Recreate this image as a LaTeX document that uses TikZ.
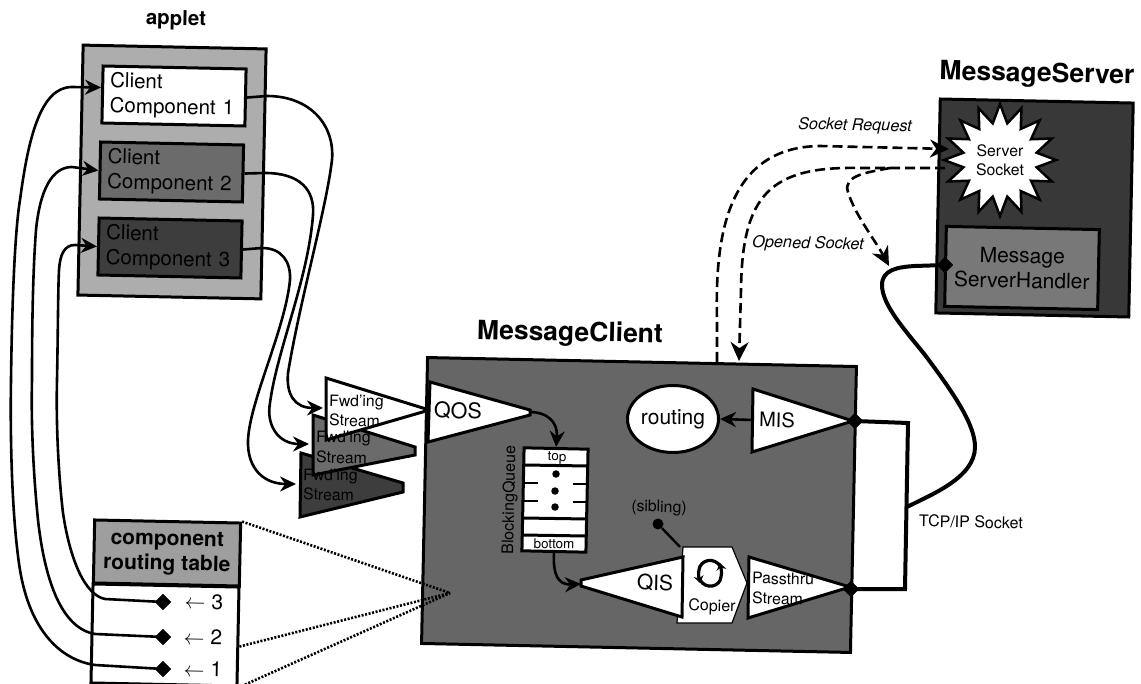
\documentclass[tikz,border=0pt]{standalone}
\usepackage{fontspec}
\setmainfont{TeX Gyre Heros}
\usetikzlibrary{arrows.meta,shapes.geometric}
\definecolor{gApplet}{gray}{0.68}
\definecolor{gHead}{gray}{0.62}
\definecolor{gMid}{gray}{0.42}
\definecolor{gDark}{gray}{0.24}
\definecolor{gClient}{gray}{0.40}
\definecolor{gServer}{gray}{0.22}
\definecolor{gHandler}{gray}{0.47}
\tikzset{
  tilt/.style={rotate=-1.2},
  panel/.style={draw,line width=3pt,inner sep=0pt,tilt},
  complabel/.style={panel,minimum width=143pt,minimum height=57pt,text width=128pt,inner xsep=7.5pt,align=left,font=\fontsize{20.5}{25}\selectfont},
  ttl/.style={tilt,inner sep=0pt,font=\fontsize{26.5}{30}\bfseries\selectfont},
  lg/.style={tilt,inner sep=0pt,align=center,font=\fontsize{21}{25}\selectfont},
  md/.style={tilt,inner sep=0pt,align=left,font=\fontsize{15.8}{18.7}\selectfont},
  mdi/.style={tilt,inner sep=0pt,font=\fontsize{16.3}{19}\itshape\selectfont},
  sm/.style={tilt,inner sep=0pt,font=\fontsize{13.4}{16}\selectfont},
  blk/.style={draw,fill=black,diamond,inner sep=0pt,minimum size=16pt},
  shapeline/.style={draw,line width=3pt,line join=miter},
  conn/.style={draw,line width=2.6pt,-{Stealth[length=16pt,width=15pt]}},
  plain/.style={draw,line width=2.4pt},
  dash1/.style={draw,line width=2.6pt,dash pattern=on 10pt off 5pt,-{Stealth[length=19pt,width=18pt]}},
  wire/.style={draw,line width=4pt,line join=miter},
  dotline/.style={draw,line width=2.6pt,dash pattern=on 2pt off 1.6pt},
  qdot/.style={circle,fill=black,inner sep=0pt,minimum size=7.5pt},
}
\begin{document}
\begin{tikzpicture}[x=1pt,y=-1pt]
\useasboundingbox (0,0) rectangle (1141,684);

% applet
\node[ttl,font=\fontsize{20.5}{25}\bfseries\selectfont] (appletT) at (176,20) {applet};
\node[panel,fill=gApplet,minimum width=183pt,minimum height=250pt] (applet) at (172,172) {};
\node[complabel,fill=white] (c1) at (174,96) {Client\\Component 1};
\node[complabel,fill=gMid] (c2) at (171.5,172) {Client\\Component 2};
\node[complabel,fill=gDark] (c3) at (170,248) {Client\\Component 3};

% message client
\node[ttl] (mcT) at (570,334) {MessageClient};
\node[panel,fill=gClient,minimum width=429pt,minimum height=286pt] (mc) at (639,505) {};

% message server
\node[ttl] (msT) at (1037,75) {MessageServer};
\node[panel,fill=gServer,minimum width=193pt,minimum height=214pt] (ms) at (1034.5,208) {};
\node[panel,fill=gHandler,minimum width=153pt,minimum height=80pt,align=center,font=\fontsize{21}{25}\selectfont] (handler) at (1022,268) {Message\\ServerHandler};
\node[draw,line width=2.5pt,fill=white,star,star points=16,star point ratio=1.5,minimum size=112pt,inner sep=0pt,align=center,font=\fontsize{15.8}{18.5}\selectfont] (ss) at (1000,160) {Server\\Socket};

% routing table
\node[panel,fill=white,minimum width=146pt,minimum height=99pt] (tbody) at (165,635) {};
\node[panel,fill=gHead,minimum width=146pt,minimum height=63pt,align=center,font=\fontsize{21}{25}\bfseries\selectfont] (thead) at (167,553) {component\\routing table};
\node[lg] (e3) at (204,602) {$\leftarrow$ 3};
\node[lg] (e2) at (203,637) {$\leftarrow$ 2};
\node[lg] (e1) at (203,669) {$\leftarrow$ 1};
\node[blk] (d3) at (163,602) {};
\node[blk] (d2) at (163,637) {};
\node[blk] (d1) at (163,669) {};

% dotted lines to message client
\coordinate (focus) at (450,593);
\path[dotline] (thead.north east) -- (focus);
\path[dotline] ([yshift=-10pt]tbody.east) -- (focus);
\path[dotline] (tbody.south east) -- (focus);

% forwarding streams
\path[shapeline,fill=gDark] (301,453) -- (403,483) -- (403,492) -- (300,517) -- cycle;
\path[shapeline,fill=gMid] (313,415) -- (415,447) -- (415,455) -- (313,475) -- cycle;
\path[shapeline,fill=white] (326,378) -- (426,409) -- (426,411) -- (326,440) -- cycle;
\node[md,anchor=west] (f3a) at (303,476) {Fwd’ing};
\node[md,anchor=west] (f3b) at (303,494) {Stream};
\node[md,anchor=west] (f2a) at (316,438) {Fwd’ing};
\node[md,anchor=west] (f2b) at (316,457) {Stream};
\node[md,anchor=west] (f1a) at (329,402) {Fwd’ing};
\node[md,anchor=west] (f1b) at (329,420) {Stream};
\coordinate (f1in) at (323,408);
\coordinate (f2in) at (309,444);
\coordinate (f3in) at (296,484);

% component to stream curves
\path[conn] (c1.east) -- (267,96) .. controls (310,96) and (335,125) .. (332,160)
  .. controls (326,210) and (300,300) .. (288,373) .. controls (286,395) and (295,408) .. (f1in);
\path[conn] (c2.east) -- (265,173) .. controls (300,173) and (315,190) .. (313,215)
  .. controls (308,280) and (277,350) .. (270,403) .. controls (266,425) and (278,444) .. (f2in);
\path[conn] (c3.east) -- (262,248) .. controls (282,248) and (291,262) .. (290,280)
  .. controls (285,330) and (250,400) .. (248,440) .. controls (247,470) and (265,484) .. (f3in);

% table to component curves
\path[conn] (d1.center) -- (95,665) .. controls (60,660) and (30,630) .. (20,570)
  .. controls (12,520) and (10,440) .. (11,380) .. controls (12,300) and (15,230) .. (20,200)
  .. controls (28,140) and (40,87) .. (72,87) -- ([yshift=7pt]c1.west);
\path[conn] (d2.center) -- (95,634) .. controls (70,630) and (47,600) .. (38,520)
  .. controls (33,470) and (31,420) .. (32,380) .. controls (32,320) and (33,270) .. (36,230)
  .. controls (40,190) and (52,167) .. (72,167) -- (c2.west);
\path[conn] (d3.center) -- (105,599) .. controls (85,595) and (70,560) .. (63,513)
  .. controls (58,470) and (56,420) .. (57,380) .. controls (58,330) and (58,290) .. (59,270)
  .. controls (60,255) and (64,245) .. (75,245) -- (c3.west);

% inside client: QOS and queue
\path[shapeline,fill=white] (430,382) -- (530,410) -- (530,415) -- (428,442) -- cycle;
\node[lg,font=\fontsize{21.5}{25}\selectfont] (qos) at (458,411) {QOS};
\coordinate (qosT) at (530,412);
\node[panel,fill=white,minimum width=64pt,minimum height=103pt] (queue) at (555,500) {};
\path[shapeline] (524,465) -- (588,466) (523,518) -- (587,519) (522,535) -- (586,536);
\path[plain] (524,483) -- (538,483) (573,484) -- (588,484) (523,501) -- (538,501) (573,502) -- (587,502);
\node[qdot] (q1) at (556,474) {};
\node[qdot] (q2) at (555,491) {};
\node[qdot] (q3) at (555,507) {};
\node[sm] (qtop) at (557,458) {top};
\node[sm] (qbot) at (554,544) {bottom};
\node[tilt,rotate=90,inner sep=0pt,font=\fontsize{16}{19}\selectfont] (ql) at (510,500) {BlockingQueue};
\path[conn] (qosT) .. controls (545,412) and (558,420) .. (queue.north);

% QIS, copier, passthru
\path[draw,line width=1.2pt,fill=white] (683,547) -- (732,547) -- (747,583) -- (732,623) -- (677,623) -- cycle;
\path[shapeline,fill=white] (683,557) -- (581,580) -- (581,586) -- (682,617) -- cycle;
\node[lg] (qis) at (655,583) {QIS};
\coordinate (qisIn) at (581,584);
\node[md,font=\fontsize{16}{19}\selectfont] (cop) at (712,607) {Copier};
\path[draw,line width=3.2pt,-{Stealth[length=7pt,width=10pt]}] (721,567) .. controls (714,556) and (700,560) .. (699,570) .. controls (698,575) and (699,578) .. (700,583);
\path[draw,line width=3.2pt,-{Stealth[length=7pt,width=10pt]}] (700,580) .. controls (706,590) and (720,587) .. (721,577) .. controls (722,572) and (721,568) .. (720,563);
\path[shapeline,fill=white] (749,557) -- (850,587) -- (748,618) -- cycle;
\node[md,anchor=west] (pa) at (752,578) {Passthru};
\node[md,anchor=west] (pb) at (752,598) {Stream};
\node[md] (sib) at (659,508) {(sibling)};
\node[circle,fill=black,inner sep=0pt,minimum size=11pt] (sibd) at (658,524) {};
\coordinate (copT) at (680,547);
\path[plain] (sibd) -- (copT);
\path[conn] (queue.south) .. controls (553,575) and (558,585) .. (qisIn);

% routing, MIS
\node[draw,line width=3pt,fill=white,ellipse,minimum width=91pt,minimum height=67pt,inner sep=0pt,font=\fontsize{21}{25}\selectfont] (routing) at (673,419) {routing};
\path[shapeline,fill=white] (753,389) -- (853,421) -- (752,452) -- cycle;
\node[lg,font=\fontsize{20}{25}\selectfont] (mis) at (777,420) {MIS};
\coordinate (misW) at (753,420);
\path[conn] (misW) -- (routing.east);

% wires
\node[blk] (dm) at (855,421) {};
\node[blk] (dp) at (851,589) {};
\node[blk] (dh) at (945,265) {};
\coordinate (w1) at (908,423);
\coordinate (w2) at (905,589);
\coordinate (w3) at (907,507);
\path[wire] (dm.center) -- (w1) -- (w2) -- (dp.center);
\path[wire] (w3) .. controls (930,495) and (975,478) .. (975,447)
  .. controls (975,425) and (955,395) .. (925,355) .. controls (905,330) and (882,305) .. (882,285)
  .. controls (882,270) and (897,267) .. (915,266) -- (dh.center);
\node[md,font=\fontsize{16}{19}\selectfont] (tcp) at (971,522) {TCP/IP Socket};

% dashed
\coordinate (reqS) at (717,362);
\coordinate (ssIn) at (949,149);
\coordinate (openS) at (945,168);
\coordinate (openE) at (739,361);
\coordinate (brS) at (890,168);
\coordinate (brE) at (889,266);
\path[dash1] (reqS) -- (717,320) .. controls (715,240) and (725,147) .. (820,146) -- (ssIn);
\path[dash1] (openS) -- (860,168) .. controls (770,166) and (742,195) .. (741,290) -- (openE);
\path[dash1] (brS) .. controls (870,172) and (842,175) .. (848,192) .. controls (855,215) and (875,240) .. (brE);
\node[mdi] (lreq) at (855,126) {Socket Request};
\node[mdi] (lopen) at (808,244) {Opened Socket};
\end{tikzpicture}
\end{document}
